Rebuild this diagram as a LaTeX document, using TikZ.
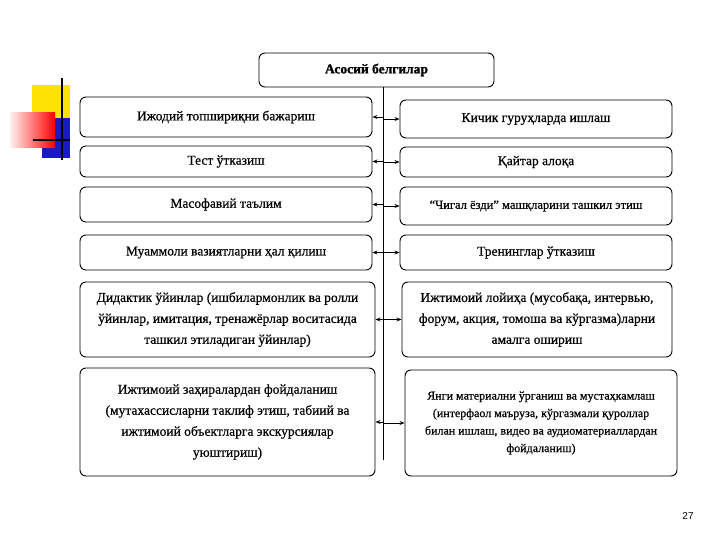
\documentclass[tikz,border=0pt]{standalone}
\usepackage{fontspec}
\setmainfont{Liberation Serif}[FakeBold=0.6]
\newfontfamily\titlefont{Liberation Serif}[FakeBold=1.2]
\newfontfamily\pagenumfont{Liberation Sans}
\usetikzlibrary{arrows.meta}
\tikzset{
  box/.style={draw=black, line width=0.9pt, rounded corners=6pt, inner sep=2pt, align=center,
    font=\fontsize{13.5}{21}\selectfont},
  arr/.style={line width=0.9pt, -{Stealth[length=5pt,width=4pt]}},
}
\begin{document}
\begin{tikzpicture}[x=1pt,y=-1pt]
\useasboundingbox (0,0) rectangle (720,540);
% decorative logo
\fill[yellow!85!orange] (32,85) rectangle (70,118);
\fill[blue!75!black!90] (42,118) rectangle (70,158);
\shade[left color=red!5, right color=red] (10,113) rectangle (55,148);
\draw[line width=2pt] (62,78) -- (62,160);
\draw[line width=2pt] (33,140) -- (70,140);
% boxes
\node[box, minimum width=235pt, minimum height=34pt, font=\titlefont\fontsize{13.5}{16}\selectfont\bfseries] (top) at (376.5,70) {Асосий белгилар};
\node[box, minimum width=292pt, minimum height=40pt] (L1) at (226,117) {Ижодий топшириқни бажариш};
\node[box, minimum width=292pt, minimum height=31pt] (L2) at (226,161.5) {Тест ўтказиш};
\node[box, minimum width=292pt, minimum height=35pt] (L3) at (226,204.5) {Масофавий таълим};
\node[box, minimum width=292pt, minimum height=35pt] (L4) at (226,252.5) {Муаммоли вазиятларни ҳал қилиш};
\node[box, minimum width=295pt, minimum height=75pt] (L5) at (227.5,319.5) {Дидактик ўйинлар (ишбилармонлик ва ролли\\ўйинлар, имитация, тренажёрлар воситасида\\ташкил этиладиган ўйинлар)};
\node[box, minimum width=295pt, minimum height=108pt] (L6) at (227.5,422) {Ижтимоий заҳиралардан фойдаланиш\\(мутахассисларни таклиф этиш, табиий ва\\ижтимоий объектларга экскурсиялар\\уюштириш)};
\node[box, minimum width=272pt, minimum height=38pt] (R1) at (536,119) {Кичик гуруҳларда ишлаш};
\node[box, minimum width=272pt, minimum height=30pt] (R2) at (536,162) {Қайтар алоқа};
\node[box, minimum width=272pt, minimum height=38pt, font=\fontsize{12.5}{15}\selectfont] (R3) at (536,206) {“Чигал ёзди” машқларини ташкил этиш};
\node[box, minimum width=272pt, minimum height=35pt] (R4) at (536,252.5) {Тренинглар ўтказиш};
\node[box, minimum width=270pt, minimum height=75pt] (R5) at (537,319.5) {Ижтимоий лойиҳа (мусобақа, интервью,\\форум, акция, томоша ва кўргазма)ларни\\амалга ошириш};
\node[box, minimum width=272pt, minimum height=106pt, font=\fontsize{12}{17.5}\selectfont] (R6) at (541,423) {Янги материални ўрганиш ва мустаҳкамлаш\\(интерфаол маъруза, кўргазмали қуроллар\\билан ишлаш, видео ва аудиоматериаллардан\\фойдаланиш)};
% spine
\coordinate (spineTop) at (383,87);
\coordinate (spineBot) at (383,460);
\draw[line width=0.9pt] (spineTop) -- (spineBot);
\foreach \n in {1,...,6}{
  \draw[arr] (spineTop |- L\n.east) -- (L\n.east);
  \draw[arr] (spineTop |- R\n.west) -- (R\n.west);
}
\node[font=\pagenumfont\fontsize{10}{12}\selectfont] (pg) at (688,516) {27};
\end{tikzpicture}
\end{document}
